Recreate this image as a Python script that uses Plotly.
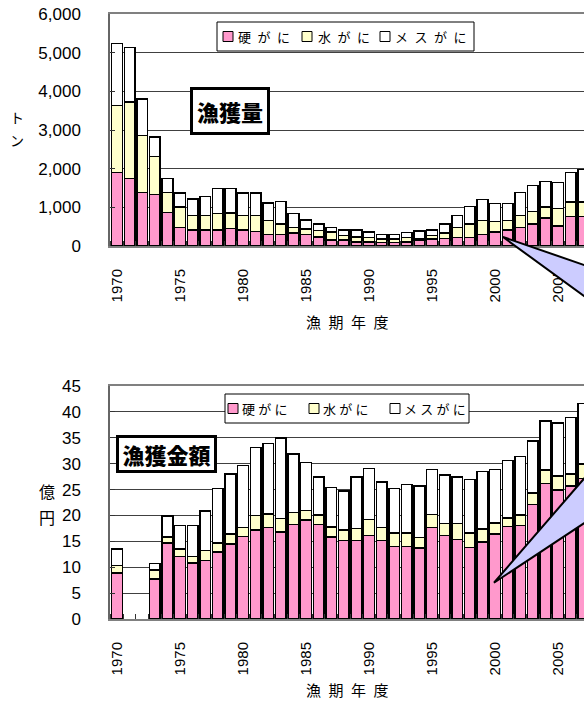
import plotly.graph_objects as go

years = list(range(1970, 2008))

# 漁獲量 (トン) by category
catch_hard = [1900, 1740, 1380, 1330, 870, 480, 415, 415, 415, 450,
              415, 370, 300, 300, 335, 295, 235, 150, 150, 105,
              105, 95, 95, 105, 150, 180, 190, 215, 215, 295,
              360, 415, 485, 570, 725, 520, 760, 760]
catch_water = [1740, 1985, 1475, 980, 510, 535, 380, 380, 420, 410,
               380, 425, 355, 270, 150, 145, 170, 208, 122, 130,
               119, 85, 85, 119, 45, 90, 145, 268, 354, 360,
               280, 240, 308, 327, 280, 455, 378, 378]
catch_female = [1600, 1405, 945, 510, 360, 355, 420, 490, 650, 625,
                575, 575, 455, 575, 355, 230, 160, 122, 142, 179,
                141, 120, 120, 126, 190, 144, 234, 310, 448, 552,
                463, 448, 586, 672, 667, 663, 759, 837]

# 漁獲金額 (億円) by category; no record for 1971-1972
value_hard = [8.9, None, None, 7.7, 14.7, 12.1, 10.8, 11.3, 12.9, 14.5,
              15.9, 17.2, 17.7, 16.8, 18.3, 19.1, 18.3, 15.8, 15.2, 15.2,
              16.1, 15.2, 14.0, 14.0, 13.7, 17.7, 16.1, 15.4, 13.8, 14.9,
              16.4, 17.9, 18.1, 22.1, 26.2, 24.9, 25.7, 27.1]
value_water = [1.45, None, None, 1.8, 1.1, 1.4, 1.3, 1.9, 1.75, 1.9,
               1.8, 2.8, 2.6, 2.6, 2.3, 1.9, 1.8, 2.0, 2.0, 2.3,
               3.1, 2.5, 2.6, 2.6, 2.0, 2.5, 2.3, 3.0, 2.8, 2.5,
               2.1, 1.6, 2.0, 2.2, 2.6, 2.7, 2.3, 2.8]
value_female = [3.15, None, None, 1.2, 4.1, 4.6, 6.0, 7.7, 10.55, 11.6,
                11.9, 13.1, 13.6, 15.6, 11.3, 9.2, 7.3, 7.6, 7.5, 9.9,
                9.9, 8.8, 8.6, 9.4, 10.0, 8.7, 9.4, 9.0, 10.3, 11.1,
                10.4, 11.1, 11.3, 10.1, 9.4, 10.3, 10.9, 11.7]

series_names = ["硬がに", "水がに", "メスがに"]
series_colors = ["#FF99CC", "#FFFFCC", "#FFFFFF"]
year_ticks = list(range(1970, 2006, 5))

W, H = 584, 701
L, R, T, B = 110, 584, 14, 619          # plot-area box in pixels
TOP_DOM = [(B - 246) / (B - T), 1.0]
BOT_DOM = [0.0, (B - 386) / (B - T)]
PX_PER_YEAR = 12.6
X_RANGE = [1970 - 7 / PX_PER_YEAR, 1970 + (R - 117) / PX_PER_YEAR]

JP = "Noto Sans CJK JP"
NUM = "Liberation Sans"


def paper(x, y):
    """pixel position -> paper coordinates"""
    return (x - L) / (R - L), (B - y) / (B - T)


def data_to_paper(xv, yv, yrange, ydom):
    px_ = (xv - X_RANGE[0]) / (X_RANGE[1] - X_RANGE[0])
    py_ = ydom[0] + (yv - yrange[0]) / (yrange[1] - yrange[0]) * (ydom[1] - ydom[0])
    return px_, py_


fig = go.Figure()

for vals, name, col in zip([catch_hard, catch_water, catch_female], series_names, series_colors):
    fig.add_trace(go.Bar(x=years, y=vals, name=name, marker=dict(color=col, line=dict(color="black", width=1.5)),
                         xaxis="x", yaxis="y", showlegend=False))
for vals, name, col in zip([value_hard, value_water, value_female], series_names, series_colors):
    fig.add_trace(go.Bar(x=years, y=vals, name=name, marker=dict(color=col, line=dict(color="black", width=1.5)),
                         xaxis="x2", yaxis="y2", showlegend=False))

xcommon = dict(range=X_RANGE, tickvals=year_ticks, tickangle=-90, ticks="",
               showline=True, linecolor="#808080", linewidth=2, mirror=True,
               showgrid=False, zeroline=False, ticklabelstandoff=15,
               tickfont=dict(family=NUM, size=15, color="black"),
               minor=dict(ticks="inside", ticklen=5, tickcolor="#333333", tick0=1969.5, dtick=1, showgrid=False))
ycommon = dict(showgrid=True, gridcolor="#404040", gridwidth=1, zeroline=False,
               showline=True, linecolor="#666666", linewidth=1.5,
               ticks="inside", ticklen=5, tickcolor="#333333",
               tickfont=dict(family=NUM, size=17, color="black"), ticklabelstandoff=24)

CATCH_RANGE = [0, 6000]
VALUE_RANGE = [0, 45]

fig.update_layout(
    width=W, height=H,
    margin=dict(l=L, r=W - R, t=T, b=H - B),
    paper_bgcolor="white", plot_bgcolor="white",
    barmode="stack", bargap=0.15,
    xaxis=dict(anchor="y", domain=[0, 1], **xcommon),
    xaxis2=dict(anchor="y2", domain=[0, 1], **xcommon),
    yaxis=dict(anchor="x", domain=TOP_DOM, range=CATCH_RANGE, dtick=1000, tickformat=",d", **ycommon),
    yaxis2=dict(anchor="x2", domain=BOT_DOM, range=VALUE_RANGE, dtick=5, **ycommon),
)

shapes = []
annotations = []

# callout wedges (pointer tails of off-canvas balloons)
def wedge(points, yrange, ydom):
    pts = [data_to_paper(xv, yv, yrange, ydom) for xv, yv in points]
    path = "M " + " L ".join(f"{a:.5f},{b:.5f}" for a, b in pts) + " Z"
    return dict(type="path", xref="paper", yref="paper", path=path,
                fillcolor="#CCCCFF", line=dict(color="black", width=2), layer="above")

shapes.append(wedge([(2000.63, 233), (2009.3, -742), (2009.3, -1823)], CATCH_RANGE, TOP_DOM))
shapes.append(wedge([(1999.92, 7.0), (2009.3, 33.4), (2009.3, 22.1)], VALUE_RANGE, BOT_DOM))


def legend_box(left, top, right, bottom, sq_x, txt_x, cy, sep):
    x0, y0 = paper(left, top)
    x1, y1 = paper(right, bottom)
    shapes.append(dict(type="rect", xref="paper", yref="paper", x0=x0, y0=y1, x1=x1, y1=y0,
                       fillcolor="white", line=dict(color="black", width=1), layer="above"))
    for sx, tx, name, col in zip(sq_x, txt_x, series_names, series_colors):
        a0, b0 = paper(sx, cy - 5)
        a1, b1 = paper(sx + 10, cy + 5)
        shapes.append(dict(type="rect", xref="paper", yref="paper", x0=a0, y0=b1, x1=a1, y1=b0,
                           fillcolor=col, line=dict(color="black", width=1), layer="above"))
        ax, ay = paper(tx, cy)
        annotations.append(dict(xref="paper", yref="paper", x=ax, y=ay, xanchor="left", yanchor="middle",
                                text=sep.join(name), showarrow=False,
                                font=dict(family=JP, size=13, color="black")))


legend_box(217, 22, 474, 51, [223, 302, 380], [236, 316, 393], 36.5, "\u2002")
legend_box(225, 394, 469, 423, [228, 309, 390], [240, 321, 402], 408.5, "\u2005")


def label(x, y, text, size, **kw):
    ax, ay = paper(x, y)
    d = dict(xref="paper", yref="paper", x=ax, y=ay, xanchor="center", yanchor="middle",
             text=text, showarrow=False, font=dict(family=JP, size=size, color="black"))
    d.update(kw)
    annotations.append(d)


# chart titles in bordered boxes
label(230, 111, "漁獲量", 22, bgcolor="white", bordercolor="black", borderwidth=3, borderpad=1,
      width=72, height=40, font=dict(family=JP, size=22, color="black", weight=900))
label(166.5, 454, "漁獲金額", 22, bgcolor="white", bordercolor="black", borderwidth=3, borderpad=1,
      width=93, height=30, font=dict(family=JP, size=22, color="black", weight=900))

# axis titles
label(17, 117, "ト", 14)
label(17, 140, "ン", 14)
label(47, 491, "億", 16)
label(47, 517, "円", 16)
label(347, 322, "\u2002".join("漁期年度"), 15)
label(347, 689, "\u2002".join("漁期年度"), 15)

fig.update_layout(shapes=shapes, annotations=annotations)

fig.write_html("out.html")
